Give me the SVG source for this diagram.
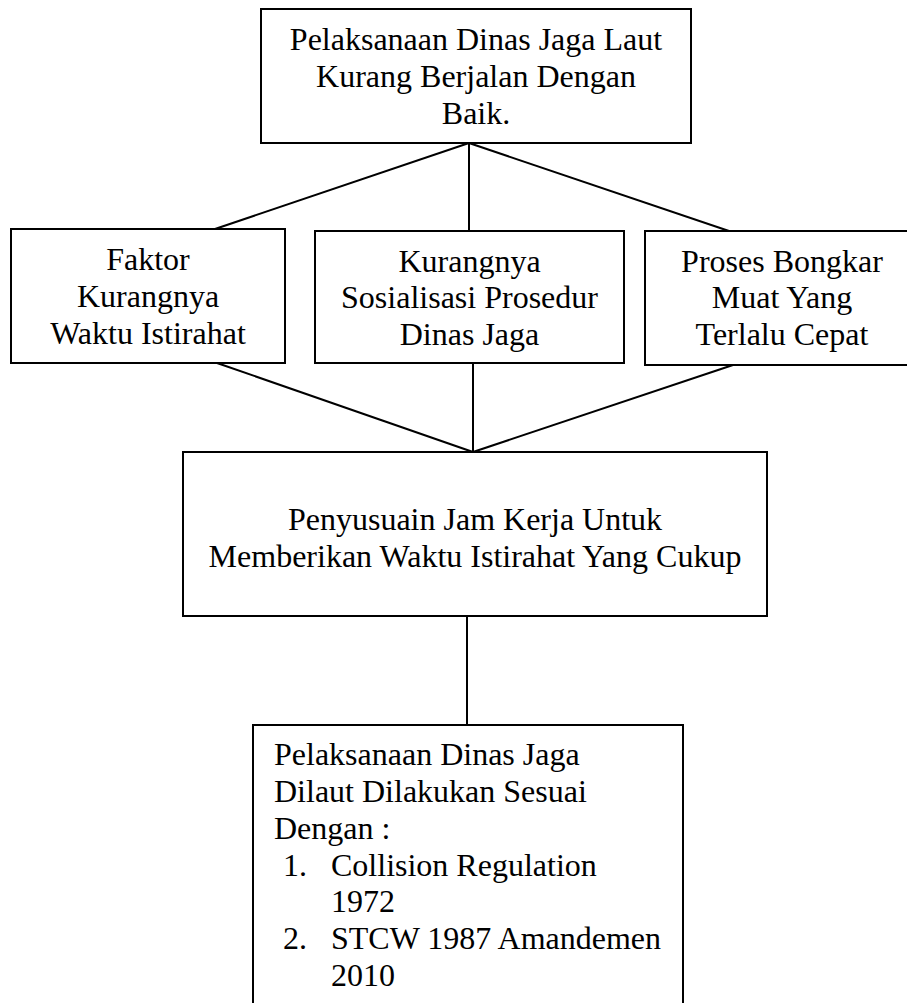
<svg xmlns="http://www.w3.org/2000/svg" width="907" height="1003" viewBox="0 0 907 1003">
<style>
.box{fill:#fff;stroke:#000;stroke-width:2}
.t{font-family:"Liberation Serif","Times New Roman",serif;font-size:32px;fill:#000}
.c{text-anchor:middle}
.ln{stroke:#000;stroke-width:2;fill:none}
</style>
<rect x="0" y="0" width="907" height="1003" fill="#fff"/>
<g id="connectors">
<line class="ln" x1="469" y1="143" x2="215" y2="229"/>
<line class="ln" x1="469" y1="143" x2="469" y2="231"/>
<line class="ln" x1="469" y1="143" x2="729" y2="231"/>
<line class="ln" x1="217" y1="363" x2="473" y2="452"/>
<line class="ln" x1="473" y1="363" x2="473" y2="452"/>
<line class="ln" x1="733" y1="365" x2="473" y2="452"/>
<line class="ln" x1="467" y1="616" x2="467" y2="725"/>
</g>
<g id="top">
<rect class="box" x="261" y="9" width="430" height="134"/>
<text class="t c" x="476" y="50">Pelaksanaan Dinas Jaga Laut</text>
<text class="t c" x="476" y="87">Kurang Berjalan Dengan</text>
<text class="t c" x="476" y="123.5">Baik.</text>
</g>
<g id="left">
<rect class="box" x="11" y="229" width="274" height="134"/>
<text class="t c" x="148" y="270">Faktor</text>
<text class="t c" x="148" y="307">Kurangnya</text>
<text class="t c" x="148" y="343.5">Waktu Istirahat</text>
</g>
<g id="middle">
<rect class="box" x="315" y="231" width="309" height="132"/>
<text class="t c" x="469.5" y="271.5">Kurangnya</text>
<text class="t c" x="469.5" y="308">Sosialisasi Prosedur</text>
<text class="t c" x="469.5" y="345">Dinas Jaga</text>
</g>
<g id="right">
<rect class="box" x="645" y="231" width="275" height="134"/>
<text class="t c" x="782" y="271.5">Proses Bongkar</text>
<text class="t c" x="782" y="308">Muat Yang</text>
<text class="t c" x="782" y="345">Terlalu Cepat</text>
</g>
<g id="solution">
<rect class="box" x="183" y="452" width="584" height="164"/>
<text class="t c" x="475" y="530">Penyusuain Jam Kerja Untuk</text>
<text class="t c" x="475" y="567">Memberikan Waktu Istirahat Yang Cukup</text>
</g>
<g id="result">
<rect class="box" x="253" y="725" width="430" height="300"/>
<text class="t" x="274" y="765">Pelaksanaan Dinas Jaga</text>
<text class="t" x="274" y="802">Dilaut Dilakukan Sesuai</text>
<text class="t" x="274" y="838.5">Dengan :</text>
<text class="t" x="283" y="875.5">1.</text>
<text class="t" x="331" y="875.5">Collision Regulation</text>
<text class="t" x="331" y="912">1972</text>
<text class="t" x="283" y="949">2.</text>
<text class="t" x="331" y="949">STCW 1987 Amandemen</text>
<text class="t" x="331" y="986">2010</text>
</g>
</svg>
